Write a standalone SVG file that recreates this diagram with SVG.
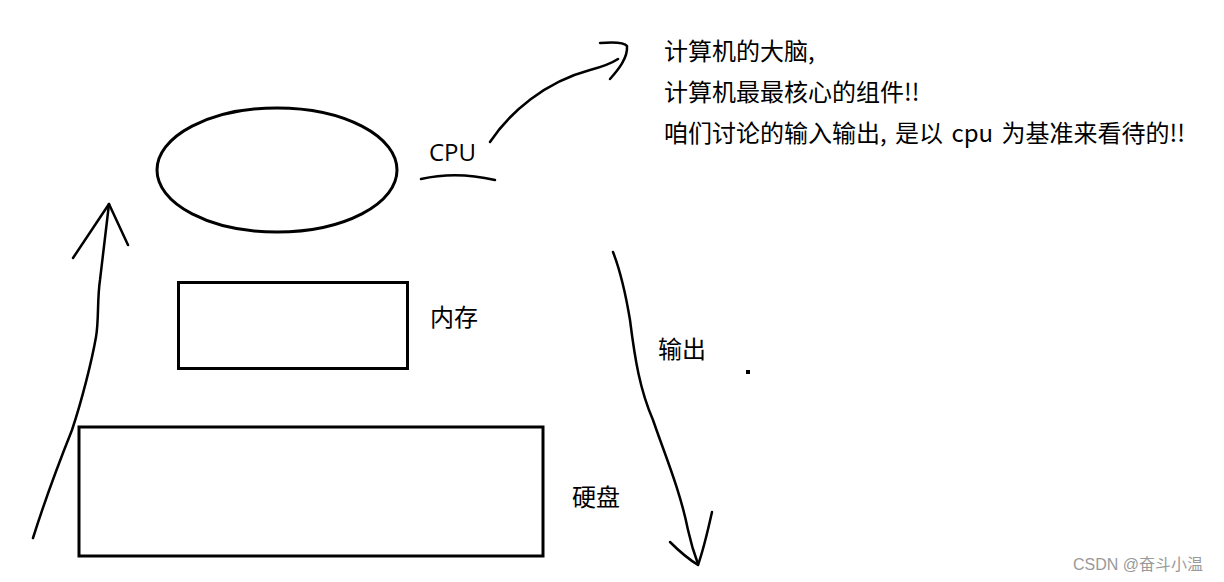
<svg xmlns="http://www.w3.org/2000/svg" width="1224" height="582" viewBox="0 0 1224 582">
<style>
.s{fill:none;stroke:#000;stroke-width:3}
.p{fill:none;stroke:#000;stroke-width:2.5;stroke-linecap:round;stroke-linejoin:round}
.t{font-family:"Noto Sans CJK SC","Noto Sans",sans-serif;font-size:24px;fill:#000}
.c{font-family:"Open Sans","Noto Sans CJK SC",sans-serif;font-size:24px;fill:#000}
.w{font-family:"Liberation Sans","Noto Sans CJK SC",sans-serif;font-size:16px;fill:#999}
</style>
<rect width="1224" height="582" fill="#fff"/>
<g id="cpu">
<ellipse class="s" cx="277" cy="170" rx="120" ry="62"/>
<text class="c" x="429" y="161">CPU</text>
</g>
<g id="memory">
<rect class="s" x="178.5" y="282.5" width="229" height="86"/>
<text class="t" x="430" y="326">内存</text>
</g>
<g id="disk">
<rect class="s" x="79" y="427" width="464" height="129"/>
<text class="t" x="572" y="506">硬盘</text>
</g>
<g id="note">
<text class="t" x="664" y="60">计算机的大脑,</text>
<text class="t" x="664" y="101">计算机最最核心的组件!!</text>
<text class="t" x="664" y="142" word-spacing="3">咱们讨论的输入输出, 是以 cpu 为基准来看待的!!</text>
</g>
<g id="connectors">
<path class="p" d="M421,179 Q456,171 495,180"/>
<path class="p" d="M490,142 C510,112 545,82 590,70 C605,66 612,63 618,59"/>
<path class="p" d="M600,43 C612,42 624,42 627,46 C628,58 618,70 610,79"/>
<path class="p" d="M33,538 C45,500 60,460 72,430 C82,400 92,360 96,337 C99,320 97,300 100,280 C103,255 106,230 109,204"/>
<path class="p" d="M73,258 L109,204 L128,245"/>
<path class="p" d="M613,252 C620,270 625,290 630,320 C635,360 640,390 653,420 C665,455 680,490 688,530 C692,548 695,556 698,564"/>
<path class="p" d="M670,542 C680,552 690,560 698,565 C704,548 708,530 712,512"/>
<text class="t" x="658" y="358">输出</text>
<rect x="746" y="370" width="4" height="4" fill="#000"/>
</g>
<text class="w" x="1073" y="570">CSDN @奋斗小温</text>
</svg>
